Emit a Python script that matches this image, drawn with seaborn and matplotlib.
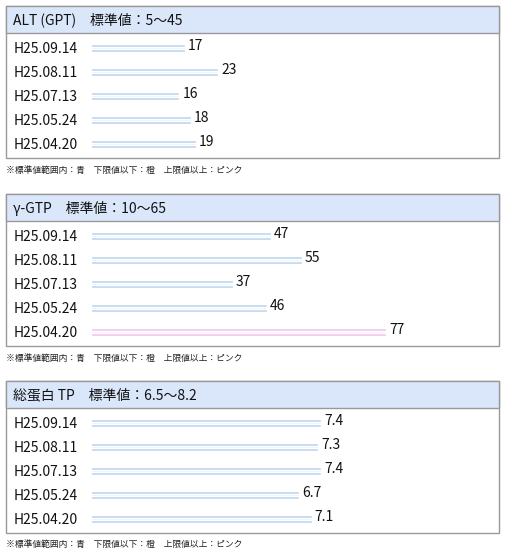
import matplotlib
matplotlib.use("Agg")
import matplotlib.pyplot as plt
import seaborn as sns
import pandas as pd
from matplotlib.patches import Rectangle

dates = ["H25.09.14", "H25.08.11", "H25.07.13", "H25.05.24", "H25.04.20"]
titles = ["ALT (GPT)\u3000標準値：5～45", "γ-GTP\u3000標準値：10～65", "総蛋白 TP\u3000標準値：6.5～8.2"]
alt_values = [17, 23, 16, 18, 19]
gtp_values = [47, 55, 37, 46, 77]
tp_values = [7.4, 7.3, 7.4, 6.7, 7.1]
ranges = [(5, 45), (10, 65), (6.5, 8.2)]
px_per_unit = [5.53, 3.83, 31.1]
footnote = "※標準値範囲内：青\u3000下限値以下：橙\u3000上限値以上：ピンク"

sns.set_style("white")
plt.rcParams['font.family'] = ['Noto Sans CJK JP', 'DejaVu Sans']

W, H = 505, 556
fig = plt.figure(figsize=(W / 100, H / 100), dpi=100)
palette = {"normal": "#b4d5f6", "low": "#f8c89a", "high": "#f7bdf2"}
light = {"normal": "#e2effd", "low": "#fde6cf", "high": "#fde3fa"}

def fx(x):
    return x / W

def fy(y):
    return 1 - y / H

tops = [6, 194, 381]
for k, vals in enumerate([alt_values, gtp_values, tp_values]):
    top = tops[k]
    lo, hi = ranges[k]
    df = pd.DataFrame({"date": dates, "value": vals})
    df["status"] = ["low" if v < lo else "high" if v > hi else "normal" for v in vals]
    # panel box and header
    fig.patches.append(Rectangle((fx(6), fy(top + 152)), fx(493), 152 / H, transform=fig.transFigure,
                                 facecolor="white", edgecolor="#999999", lw=1, zorder=0))
    fig.patches.append(Rectangle((fx(6), fy(top + 27)), fx(493), 27 / H, transform=fig.transFigure,
                                 facecolor="#dae7fb", edgecolor="#999999", lw=1, zorder=0))
    fig.text(fx(13), fy(top + 14), titles[k], fontsize=10, va="center", color="#111111")
    fig.text(fx(6), fy(top + 164), footnote, fontsize=6.3, va="center", color="#222222")

    ax = fig.add_axes([fx(91), fy(top + 150), fx(400), 120 / H])
    ax.set_zorder(5)
    ax.patch.set_visible(False)
    sns.barplot(data=df, y="date", x="value", hue="status", palette=palette, dodge=False,
                width=0.34, ax=ax, legend=False)
    sns.barplot(data=df, y="date", x="value", hue="status", palette=light, dodge=False,
                width=0.12, ax=ax, legend=False)
    ax.set_xlim(0, 400 / px_per_unit[k])
    ax.set_ylim(4.5, -0.5)
    ax.axis("off")
    for i, v in enumerate(vals):
        ax.text(v + 3 / px_per_unit[k], i - 0.1, f"{v:g}", fontsize=10, va="center", color="#111111")
    for i, d in enumerate(dates):
        fig.text(fx(14), fy(top + 42 + 24 * i) - 0.002, d, fontsize=10, va="center", color="#111111")

fig.savefig("out.png", dpi=100)
